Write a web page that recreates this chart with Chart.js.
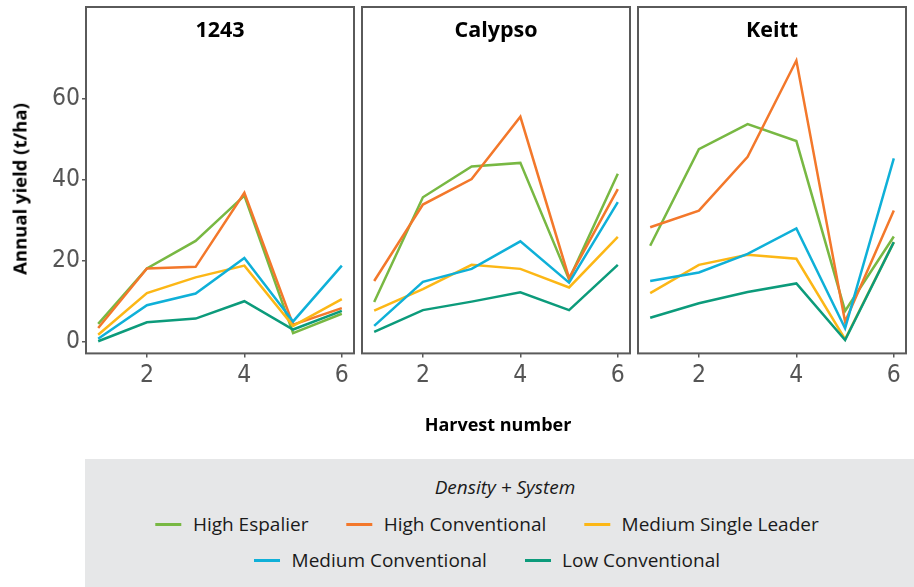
<!DOCTYPE html>
<html>
<head>
<meta charset="utf-8">
<script src="https://cdn.jsdelivr.net/npm/chart.js@4.4.0/dist/chart.umd.min.js"></script>
<style>
  html, body { margin: 0; padding: 0; background: #ffffff; }
  #wrap { position: relative; width: 914px; height: 587px; overflow: hidden; font-family: "Open Sans", sans-serif; color: #1a1a1a; }
  canvas { position: absolute; top: 0; }
  .ytitle { position: absolute; left: 19px; top: 189px; transform: translate(-50%, -50%) rotate(-90deg); font-weight: 700; font-size: 18.5px; white-space: nowrap; color: #000; }
  .xtitle { position: absolute; left: 498px; top: 424px; transform: translate(-50%, -50%); font-weight: 700; font-size: 18px; white-space: nowrap; color: #000; }
  #legendBox { position: absolute; left: 85px; top: 459px; width: 829px; height: 128px; background: #e6e7e8; }
  .ltitle { position: absolute; left: 505px; top: 487px; transform: translate(-50%, -50%); font-style: italic; font-size: 19px; white-space: nowrap; }
  .lrow { position: absolute; transform: translate(-50%, -50%); display: flex; align-items: center; white-space: nowrap; font-size: 19px; }
  .item { display: flex; align-items: center; }
  .item + .item { margin-left: 37.7px; }
  .sw { display: inline-block; width: 26px; height: 3px; margin-right: 11.6px; }
</style>
</head>
<body>
<div id="wrap">
  <canvas id="c0" width="358" height="400" style="left:0px;width:358px;height:400px"></canvas>
  <canvas id="c1" width="280" height="400" style="left:356px;width:280px;height:400px"></canvas>
  <canvas id="c2" width="282" height="400" style="left:632px;width:282px;height:400px"></canvas>
  <div class="ytitle">Annual yield (t/ha)</div>
  <div class="xtitle">Harvest number</div>
  <div id="legendBox"></div>
  <div class="ltitle">Density + System</div>
  <div class="lrow" id="row1" style="left:487px;top:524px"></div>
  <div class="lrow" id="row2" style="left:487px;top:560px"></div>
</div>
<script>
// ---------- data ----------
const harvestNumbers = [1, 2, 3, 4, 5, 6];
const cultivars = ['1243', 'Calypso', 'Keitt'];
const systems = ['High Espalier', 'High Conventional', 'Medium Single Leader', 'Medium Conventional', 'Low Conventional'];
const systemColors = ['#78b843', '#f3782b', '#fcb716', '#0fb0d8', '#0c9b7b'];
const xTicks = [2, 4, 6];
const yTicks = [0, 20, 40, 60];

// cultivar 1243
const highEspalier1243       = [4.4, 18.1, 24.9, 36.1, 2.1, 6.9];
const highConventional1243   = [3.4, 18.1, 18.5, 36.8, 4.2, 8.3];
const mediumSingleLeader1243 = [1.7, 12.0, 15.9, 18.8, 3.9, 10.5];
const mediumConventional1243 = [0.7, 9.0, 11.9, 20.7, 5.0, 18.8];
const lowConventional1243    = [0.1, 4.8, 5.7, 10.0, 3.0, 7.6];

// cultivar Calypso
const highEspalierCalypso       = [9.8, 35.7, 43.3, 44.2, 15.4, 41.5];
const highConventionalCalypso   = [15.0, 33.9, 40.2, 55.6, 15.7, 37.7];
const mediumSingleLeaderCalypso = [7.7, 13.0, 19.0, 18.0, 13.4, 25.9];
const mediumConventionalCalypso = [3.9, 14.8, 18.0, 24.8, 14.6, 34.5];
const lowConventionalCalypso    = [2.4, 7.8, 9.9, 12.2, 7.8, 19.0];

// cultivar Keitt
const highEspalierKeitt       = [23.7, 47.6, 53.8, 49.6, 7.6, 26.0];
const highConventionalKeitt   = [28.3, 32.4, 45.7, 69.5, 4.9, 32.4];
const mediumSingleLeaderKeitt = [12.0, 19.0, 21.5, 20.5, 0.6, 24.6];
const mediumConventionalKeitt = [15.0, 17.1, 21.7, 28.0, 3.3, 45.3];
const lowConventionalKeitt    = [5.9, 9.5, 12.3, 14.4, 0.4, 24.6];

const seriesByCultivar = [
  [highEspalier1243, highConventional1243, mediumSingleLeader1243, mediumConventional1243, lowConventional1243],
  [highEspalierCalypso, highConventionalCalypso, mediumSingleLeaderCalypso, mediumConventionalCalypso, lowConventionalCalypso],
  [highEspalierKeitt, highConventionalKeitt, mediumSingleLeaderKeitt, mediumConventionalKeitt, lowConventionalKeitt]
];

// ---------- styling ----------
const tickFont = { family: '"DejaVu Sans Condensed", "Liberation Sans Narrow", sans-serif', size: 24.5 };
const tickColor = '#555555';
const axisGray = '#5a5a5a';

const panelBox = {
  id: 'panelBox',
  afterDraw(chart) {
    const { ctx, chartArea: a } = chart;
    ctx.save();
    ctx.strokeStyle = axisGray;
    ctx.lineWidth = 2;
    ctx.strokeRect(a.left, 7, a.right - a.left, a.bottom - 7);
    ctx.restore();
  }
};

function makePanel(idx, padding, showY) {
  const datasets = systems.map((name, s) => ({
    label: name,
    data: harvestNumbers.map((h, i) => ({ x: h, y: seriesByCultivar[idx][s][i] })),
    borderColor: systemColors[s],
    backgroundColor: systemColors[s],
    borderWidth: 2.5,
    pointRadius: 0,
    tension: 0,
    fill: false,
    borderJoinStyle: 'miter',
    order: systems.length - s
  }));
  return new Chart(document.getElementById('c' + idx), {
    type: 'line',
    data: { datasets },
    plugins: [panelBox],
    options: {
      responsive: false,
      animation: false,
      layout: { padding },
      plugins: {
        legend: { display: false },
        tooltip: { enabled: false },
        title: {
          display: true,
          text: cultivars[idx],
          fullSize: false,
          color: '#000',
          font: { family: '"Open Sans", sans-serif', weight: 'bold', size: 21.5 },
          padding: { top: 18, bottom: 3.0 }
        }
      },
      scales: {
        x: {
          type: 'linear',
          min: 0.75, max: 6.25,
          afterBuildTicks: s => { s.ticks = xTicks.map(v => ({ value: v })); },
          afterFit: s => { s.height = 46.6; },
          border: { display: false },
          grid: { drawOnChartArea: false, drawTicks: true, tickLength: 4, color: axisGray, lineWidth: 1.5 },
          ticks: { font: tickFont, color: tickColor, padding: 4, maxRotation: 0, autoSkip: false }
        },
        y: {
          type: 'linear',
          display: showY,
          min: -2.9, max: 72.9,
          afterBuildTicks: s => { s.ticks = yTicks.map(v => ({ value: v })); },
          afterFit: s => { s.width = showY ? 86 : 0; },
          border: { display: false },
          grid: { drawOnChartArea: false, drawTicks: true, tickLength: 4, color: axisGray, lineWidth: 1.5 },
          ticks: { font: tickFont, color: tickColor, padding: 2 }
        }
      }
    }
  });
}

makePanel(0, { left: 0, right: 4, top: 0, bottom: 0 }, true);
makePanel(1, { left: 6, right: 6, top: 0, bottom: 0 }, false);
makePanel(2, { left: 6, right: 8, top: 0, bottom: 0 }, false);

// ---------- legend ----------
const rows = [document.getElementById('row1'), document.getElementById('row2')];
systems.forEach((name, s) => {
  const item = document.createElement('div');
  item.className = 'item';
  const sw = document.createElement('span');
  sw.className = 'sw';
  sw.style.background = systemColors[s];
  const tx = document.createElement('span');
  tx.textContent = name;
  item.appendChild(sw);
  item.appendChild(tx);
  rows[s < 3 ? 0 : 1].appendChild(item);
});
</script>
</body>
</html>
